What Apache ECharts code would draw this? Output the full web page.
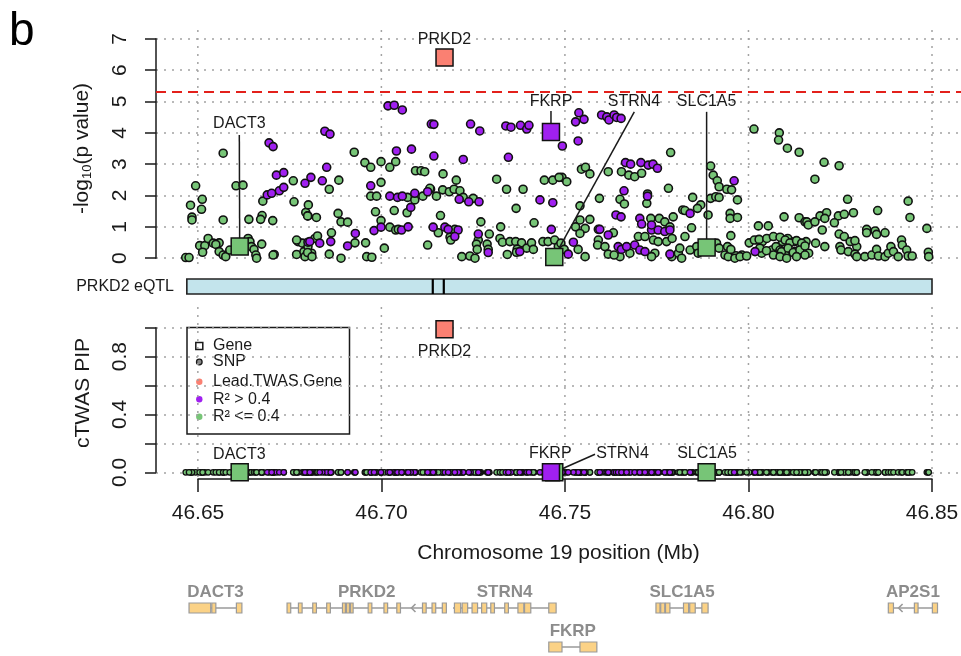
<!DOCTYPE html>
<html>
<head>
<meta charset="utf-8">
<script src="https://cdn.jsdelivr.net/npm/echarts@6/dist/echarts.min.js"></script>
<style>
html, body { margin: 0; padding: 0; background: #fff; }
#chart { width: 961px; height: 656px; }
</style>
</head>
<body>
<div id="chart"></div>
<script>
// x range of the plotting region (Mb), and the labelled positions
var XMIN = 46.6386, XMAX = 46.8579;
var xTicks = [46.65, 46.70, 46.75, 46.80, 46.85];
var pipLabelled = [0, 0.4, 0.8];
var sigLine = 5.3;   // -log10 p threshold

// SNPs with R^2 <= 0.4 to the lead gene: [position Mb, -log10 p]
var snpLow = [
  [46.6569,3.35],[46.6494,2.31],[46.6480,1.69],[46.6512,1.88],[46.6510,1.56],[46.6484,1.31],[46.6484,1.22],
  [46.6604,2.31],[46.6623,2.33],[46.6569,1.22],[46.6639,1.24],[46.6675,1.36],[46.6671,1.24],[46.6677,1.82],
  [46.6762,1.80],[46.6760,2.47],[46.6794,1.46],[46.6800,1.35],[46.6467,0.02],[46.6476,0.02],[46.6505,0.40],
  [46.6519,0.40],[46.6513,0.19],[46.6528,0.63],[46.6542,0.48],[46.6558,0.49],[46.6549,0.44],[46.6558,0.21],
  [46.6569,0.10],[46.6576,0.05],[46.6587,0.26],[46.6637,0.63],[46.6642,0.53],[46.6646,0.37],[46.6653,0.28],
  [46.6658,0.10],[46.6660,0.00],[46.6674,0.45],[46.6708,0.12],[46.6769,0.12],[46.6773,0.53],[46.6785,0.48],
  [46.6789,0.21],[46.6800,0.37],[46.6800,0.16],[46.6704,1.20],[46.6769,0.58],[46.6819,0.63],[46.6792,0.05],
  [46.6810,0.16],[46.6705,0.10],
  [46.6926,3.38],[46.6955,3.05],[46.6971,2.90],[46.6999,3.08],[46.7023,2.90],[46.7039,3.08],[46.7093,2.79],
  [46.7108,2.79],[46.7118,2.76],[46.6884,2.49],[46.6858,2.20],[46.6999,2.42],[46.6971,1.98],[46.6987,1.98],
  [46.7071,1.94],[46.7091,1.86],[46.7113,1.98],[46.7134,2.20],[46.6984,1.48],[46.7035,1.52],[46.7070,1.45],
  [46.6801,1.70],[46.6799,1.35],[46.6823,1.30],[46.6882,1.43],[46.6890,1.16],[46.6908,1.15],[46.6826,0.71],
  [46.6864,0.81],[46.6799,0.18],[46.6811,0.05],[46.6858,0.13],[46.6890,0.00],[46.6928,0.49],[46.6957,0.49],
  [46.6960,0.05],[46.6974,0.03],[46.6999,1.20],[46.7023,0.99],[46.7039,0.90],[46.7046,0.92],[46.7008,0.32],
  [46.7126,0.42],
  [46.7168,2.69],[46.7204,2.49],[46.7314,2.52],[46.7132,2.23],[46.7167,2.18],[46.7185,2.12],[46.7198,2.20],
  [46.7214,2.15],[46.7150,1.98],[46.7223,1.94],[46.7250,1.91],[46.7341,2.20],[46.7386,2.20],[46.7444,2.49],
  [46.7467,2.49],[46.7492,2.58],[46.7367,1.59],[46.7161,1.36],[46.7271,1.16],[46.7325,1.00],[46.7416,1.13],
  [46.7155,0.81],[46.7187,0.67],[46.7189,0.58],[46.7200,0.92],[46.7264,0.58],[46.7294,0.77],[46.7259,0.45],
  [46.7261,0.28],[46.7288,0.45],[46.7291,0.28],[46.7323,0.63],[46.7330,0.51],[46.7350,0.53],[46.7366,0.53],
  [46.7382,0.49],[46.7396,0.32],[46.7409,0.49],[46.7440,0.53],[46.7454,0.53],[46.7472,0.58],[46.7219,0.05],
  [46.7241,0.07],[46.7255,0.00],[46.7343,0.12],[46.7370,0.29],[46.7368,0.19],[46.7414,0.28],[46.7650,0.05],
  [46.7788,3.37],[46.7545,2.84],[46.7556,2.90],[46.7568,2.69],[46.7618,2.76],[46.7654,2.76],[46.7674,2.65],
  [46.7690,2.60],[46.7709,2.71],[46.7484,2.58],[46.7505,2.44],[46.7782,2.23],[46.7594,1.91],[46.7650,1.88],
  [46.7662,1.73],[46.7723,1.75],[46.7725,2.05],[46.7541,1.67],[46.7541,1.22],[46.7568,1.24],[46.7591,0.92],
  [46.7632,0.81],[46.7734,1.27],[46.7757,1.27],[46.7772,1.16],[46.7795,1.32],[46.7786,1.00],[46.7529,1.00],
  [46.7555,0.95],[46.7541,0.79],[46.7591,0.58],[46.7589,0.42],[46.7609,0.37],[46.7700,0.69],[46.7718,0.69],
  [46.7741,0.58],[46.7754,0.53],[46.7777,0.53],[46.7792,0.63],[46.7536,0.28],[46.7555,0.05],[46.7618,0.13],
  [46.7634,0.10],[46.7677,0.16],[46.7745,0.16],[46.7736,0.05],[46.7791,0.05],[46.7809,0.16],[46.7818,0.00],
  [46.7482,0.37],[46.7489,0.48],[46.7498,0.28],
  [46.8015,4.12],[46.8084,4.00],[46.8082,3.77],[46.8106,3.51],[46.8138,3.38],[46.7897,2.94],[46.7904,2.65],
  [46.7915,2.47],[46.7920,2.28],[46.7941,2.20],[46.7954,2.18],[46.7970,1.86],[46.7848,1.94],[46.7870,1.70],
  [46.7861,1.59],[46.7897,1.91],[46.7911,1.96],[46.7920,1.94],[46.7890,1.38],[46.7950,1.43],[46.7950,1.27],
  [46.7970,1.30],[46.7821,1.54],[46.7827,0.69],[46.7845,0.97],[46.7952,0.72],[46.8027,1.03],[46.8054,1.03],
  [46.8097,1.32],[46.8138,1.29],[46.8154,1.16],[46.7841,0.26],[46.7859,0.37],[46.7863,0.16],[46.7913,0.48],
  [46.7920,0.32],[46.7936,0.10],[46.7954,0.13],[46.7966,0.08],[46.7982,0.10],[46.8002,0.49],[46.8025,0.58],
  [46.8038,0.53],[46.8064,0.26],[46.8075,0.37],[46.8093,0.53],[46.8107,0.63],[46.8125,0.53],[46.8139,0.48],
  [46.8157,0.53],[46.8036,0.16],[46.8068,0.10],[46.8086,0.26],[46.8100,0.16],[46.8127,0.21],[46.8150,0.28],
  [46.8164,0.16],[46.8016,0.58],[46.8029,0.60],[46.8050,0.63],[46.8068,0.69],[46.8086,0.67],[46.8100,0.58],
  [46.8113,0.49],[46.8131,0.56],[46.8145,0.48],[46.8031,0.32],[46.8049,0.24],[46.8090,0.21],[46.8108,0.32],
  [46.8122,0.18],[46.8140,0.26],[46.8154,0.10],[46.8086,0.05],[46.8104,0.00],[46.8131,0.05],[46.7945,0.05],
  [46.7963,0.00],[46.7977,0.05],[46.7995,0.07],[46.7943,0.37],[46.7952,0.28],[46.7813,0.32],[46.7827,1.52],
  [46.8206,3.06],[46.8247,2.95],[46.8181,2.52],[46.8270,1.88],[46.8435,1.82],[46.8352,1.52],[46.8286,1.45],
  [46.8440,1.30],[46.8195,1.35],[46.8213,1.45],[46.8208,1.27],[46.8245,1.35],[46.8261,1.40],[46.8234,1.13],
  [46.8159,1.16],[46.8163,1.06],[46.8181,1.16],[46.8201,0.90],[46.8486,0.95],[46.8322,0.92],[46.8322,0.81],
  [46.8345,0.87],[46.8349,0.76],[46.8372,0.81],[46.8247,0.77],[46.8261,0.69],[46.8277,0.53],[46.8295,0.37],
  [46.8290,0.56],[46.8183,0.48],[46.8208,0.37],[46.8154,0.39],[46.8249,0.37],[46.8252,0.26],[46.8272,0.21],
  [46.8290,0.13],[46.8295,0.05],[46.8317,0.05],[46.8336,0.10],[46.8349,0.28],[46.8354,0.07],[46.8372,0.05],
  [46.8381,0.16],[46.8388,0.37],[46.8395,0.21],[46.8408,0.05],[46.8417,0.58],[46.8419,0.42],[46.8431,0.26],
  [46.8435,0.07],[46.8446,0.07],[46.8490,0.19],[46.8491,0.05]
];

// SNPs with R^2 > 0.4
var snpHigh = [
  [46.6694,3.68],[46.6705,3.56],[46.6714,2.65],[46.6734,2.73],[46.6722,2.15],[46.6734,2.26],[46.6689,2.02],
  [46.6701,2.07],[46.6800,0.51],[46.6792,2.39],
  [46.7018,4.86],[46.7035,4.88],[46.7057,4.73],[46.6846,4.05],[46.6860,3.96],[46.7136,4.28],[46.7143,4.27],
  [46.7041,3.42],[46.7082,3.48],[46.7143,3.26],[46.6851,2.90],[46.6808,2.58],[46.6839,2.47],[46.6971,2.31],
  [46.7023,1.98],[46.7044,1.94],[46.7057,1.98],[46.7091,2.07],[46.7126,2.12],[46.7080,1.62],[46.6805,0.53],
  [46.6832,0.48],[46.6862,0.53],[46.6908,0.39],[46.6929,0.79],[46.6980,0.88],[46.6999,0.99],[46.7055,0.90],
  [46.7073,1.00],[46.7141,0.99],
  [46.7243,4.28],[46.7268,4.06],[46.7339,4.22],[46.7353,4.18],[46.7379,4.24],[46.7396,4.12],[46.7402,4.24],
  [46.7223,3.15],[46.7346,3.22],[46.7212,1.88],[46.7238,1.80],[46.7266,1.80],[46.7432,1.86],[46.7467,1.77],
  [46.7173,0.99],[46.7182,0.92],[46.7209,0.90],[46.7200,0.69],[46.7264,0.77],[46.7291,0.18],[46.7377,0.21],
  [46.7463,0.92],
  [46.7538,4.64],[46.7529,4.35],[46.7552,4.43],[46.7600,4.57],[46.7614,4.51],[46.7620,4.41],[46.7634,4.57],
  [46.7641,4.49],[46.7653,4.46],[46.7536,3.74],[46.7493,3.58],[46.7665,3.05],[46.7679,3.00],[46.7707,3.05],
  [46.7727,2.97],[46.7740,3.00],[46.7752,2.87],[46.7661,2.15],[46.7725,1.98],[46.7639,1.38],[46.7653,1.32],
  [46.7704,1.27],[46.7709,1.09],[46.7736,0.90],[46.7754,0.90],[46.7772,0.85],[46.7786,0.90],[46.7736,1.06],
  [46.7595,0.92],[46.7618,0.74],[46.7523,0.51],[46.7509,0.13],[46.7645,0.37],[46.7654,0.28],[46.7668,0.37],
  [46.7690,0.42],[46.7704,0.26],[46.7718,0.21],[46.7786,0.13],
  [46.7961,2.47],[46.7841,1.43],[46.8018,0.21]
];
var snpPIP = 0;   // every SNP sits at PIP 0 in the lower panel

// genes tested in cTWAS (drawn in this order so FKRP lies over STRN4)
var geneNames = ['DACT3', 'PRKD2', 'STRN4', 'FKRP', 'SLC1A5'];
var genePos   = [46.6614, 46.7172, 46.7471, 46.7462, 46.7886];
var geneLogP  = [0.37, 6.40, 0.04, 4.03, 0.34];
var genePIP   = [0, 0.99, 0, 0, 0];
var geneGroup = ['low', 'lead', 'low', 'high', 'low'];

// PRKD2 expression model: window and the two weighted SNPs
var eqtlRange = [46.6470, 46.8500];
var eqtlWeights = [46.7140, 46.7170];

// gene models along the bottom
var trackNames = ['DACT3', 'PRKD2', 'STRN4', 'SLC1A5', 'AP2S1', 'FKRP'];
var trackRow   = [0, 0, 0, 0, 0, 1];
var trackStart = [46.6476, 46.6743, 46.7195, 46.7748, 46.8380, 46.7456];
var trackEnd   = [46.6620, 46.7177, 46.7476, 46.7890, 46.8516, 46.7587];
var trackArrow = [null, 46.7082, null, null, 46.8409, null];
var trackExons = [
  [[46.6476,46.6535],[46.6538,46.6549],[46.6605,46.6620]],
  [[46.6743,46.6753],[46.6774,46.6784],[46.6813,46.6823],[46.6851,46.6861],[46.6894,46.6902],[46.6905,46.6913],
   [46.6916,46.6923],[46.6964,46.6974],[46.7007,46.7017],[46.7042,46.7052],[46.7112,46.7122],[46.7138,46.7148],
   [46.7166,46.7177]],
  [[46.7199,46.7216],[46.7220,46.7235],[46.7247,46.7262],[46.7273,46.7287],[46.7298,46.7308],[46.7336,46.7346],
   [46.7372,46.7388],[46.7390,46.7407],[46.7456,46.7476]],
  [[46.7748,46.7759],[46.7761,46.7772],[46.7774,46.7786],[46.7823,46.7837],[46.7840,46.7855],[46.7873,46.7890]],
  [[46.8381,46.8395],[46.8452,46.8462],[46.8501,46.8515]],
  [[46.7456,46.7492],[46.7541,46.7587]]
];

// where gene names sit, and where their leader lines start (data units of each panel)
var topLabelAt = { DACT3: [46.6613, 4.31], PRKD2: [46.7172, 6.98], STRN4: [46.7688, 5.01], FKRP: [46.7462, 5.01], SLC1A5: [46.7886, 5.01] };
var topLeaderFrom = { DACT3: [46.6613, 3.93], STRN4: [46.7689, 4.67], FKRP: [46.7462, 4.70], SLC1A5: [46.7886, 4.67] };
var lowLabelAt = { DACT3: [46.6613, 0.125], PRKD2: [46.7172, 0.835], STRN4: [46.7657, 0.13], FKRP: [46.7460, 0.13], SLC1A5: [46.7887, 0.13] };
var lowLeaderFrom = { STRN4: [46.7582, 0.125] };

var INK = '#1a1a1a', DOTS = '#a3a3a3';
var GREEN = '#77c577', PURPLE = '#a020f0', SALMON = '#fa8072';
var EXON = '#fbd286', MODEL_LINE = '#9a9a9a';
var FONT = '"Liberation Sans", Arial, sans-serif';
var groupColor = { low: GREEN, high: PURPLE, lead: SALMON };

var chart = echarts.init(document.getElementById('chart'));

function plainGrid(g) {
  g.containLabel = false;
  g.outerBoundsMode = 'none';
  return g;
}

function hiddenX(grid) {
  return { type: 'value', gridIndex: grid, min: XMIN, max: XMAX, show: false };
}

function hiddenY(grid, inverse) {
  return { type: 'value', gridIndex: grid, min: 0, max: 1, show: false, inverse: !!inverse };
}

// y axis that only carries a title (spans the whole plotting region)
function titleY(grid, name, rich) {
  return {
    type: 'value', gridIndex: grid, min: 0, max: 1, position: 'left',
    axisLine: { show: false }, axisTick: { show: false }, axisLabel: { show: false }, splitLine: { show: false },
    name: name, nameLocation: 'middle', nameRotate: 90, nameGap: 62,
    nameTextStyle: { fontSize: 21, color: INK, fontFamily: FONT, rich: rich }
  };
}

function vGrid(params, api) {
  var x = api.coord([api.value(0), 0])[0];
  var cs = params.coordSys;
  return {
    type: 'line', silent: true,
    shape: { x1: x, y1: cs.y, x2: x, y2: cs.y + cs.height },
    style: { stroke: DOTS, lineWidth: 1.5, lineDash: [2, 6] }
  };
}

function leaders(fromMap) {
  return function (params, api) {
    var from = fromMap[geneNames[params.dataIndex]];
    if (!from) return null;
    var a = api.coord(from);
    var b = api.coord([api.value(0), api.value(1)]);
    return { type: 'line', shape: { x1: a[0], y1: a[1], x2: b[0], y2: b[1] }, style: { stroke: INK, lineWidth: 1.5 } };
  };
}

function labels(atMap) {
  return function (params, api) {
    var name = geneNames[params.dataIndex];
    var p = api.coord(atMap[name]);
    return {
      type: 'text',
      style: { text: name, x: p[0], y: p[1], align: 'center', verticalAlign: 'middle', fill: INK, font: '16px ' + FONT }
    };
  };
}

function geneModel(params, api) {
  var i = params.dataIndex, row = trackRow[i];
  var s = api.coord([trackStart[i], row]), e = api.coord([trackEnd[i], row]);
  var y = s[1];
  var kids = [{ type: 'line', shape: { x1: s[0], y1: y, x2: e[0], y2: y }, style: { stroke: MODEL_LINE, lineWidth: 1.6 } }];
  if (trackArrow[i] != null) {
    var ax = api.coord([trackArrow[i], row])[0];
    kids.push({ type: 'polyline', shape: { points: [[ax + 4, y - 4], [ax, y], [ax + 4, y + 4]] },
                style: { stroke: MODEL_LINE, lineWidth: 1.6, fill: null } });
  }
  trackExons[i].forEach(function (ex) {
    var a = api.coord([ex[0], row])[0], b = api.coord([ex[1], row])[0];
    kids.push({ type: 'rect', shape: { x: a, y: y - 5, width: Math.max(b - a, 2), height: 10 },
                style: { fill: EXON, stroke: MODEL_LINE, lineWidth: 1.2 } });
  });
  var mid = api.coord([(trackStart[i] + trackEnd[i]) / 2, row])[0];
  kids.push({ type: 'text', style: { text: trackNames[i], x: mid, y: y - 16, align: 'center', verticalAlign: 'middle',
                                     fill: '#8c8c8c', font: 'bold 17px ' + FONT } });
  return { type: 'group', children: kids };
}

var geneIdx = geneNames.map(function (n, i) { return i; });
var tickData = xTicks.map(function (v) { return [v, 0]; });

var option = {
  animation: false,
  backgroundColor: '#fff',
  grid: [
    plainGrid({ left: 156, right: 0, top: 38.8, height: 219.4 }),  // 0 upper points
    plainGrid({ left: 156, right: 0, top: 30, height: 237 }),      // 1 upper frame
    plainGrid({ left: 156, right: 0, top: 279, height: 15 }),      // 2 eQTL strip
    plainGrid({ left: 156, right: 0, top: 327.8, height: 144.5 }), // 3 lower points
    plainGrid({ left: 156, right: 0, top: 307, height: 172 }),     // 4 lower frame
    plainGrid({ left: 198, width: 734, top: 470, height: 9 }),     // 5 position axis
    plainGrid({ left: 156, right: 0, top: 608, height: 39 })       // 6 gene models
  ],
  xAxis: [
    hiddenX(0), hiddenX(1), hiddenX(2), hiddenX(3),
    {
      type: 'value', gridIndex: 4, min: XMIN, max: XMAX,
      axisLine: { show: false }, axisTick: { show: false }, axisLabel: { show: false }, splitLine: { show: false },
      name: 'Chromosome 19 position (Mb)', nameLocation: 'middle', nameGap: 64,
      nameTextStyle: { fontSize: 21, color: INK, fontFamily: FONT }
    },
    {
      type: 'value', gridIndex: 5, min: 46.65, max: 46.85, interval: 0.05,
      axisLine: { show: true, onZero: false, lineStyle: { color: INK, width: 1.5 } },
      axisTick: { show: true, length: 13, lineStyle: { color: INK, width: 1.5 } },
      axisLabel: { fontSize: 21, color: INK, fontFamily: FONT, margin: 24,
                   formatter: function (v) { return v.toFixed(2); } },
      splitLine: { show: false }
    },
    hiddenX(6)
  ],
  yAxis: [
    {
      type: 'value', gridIndex: 0, min: 0, max: 7, interval: 1,
      axisLine: { show: true, onZero: false, lineStyle: { color: INK, width: 1.5 } },
      axisTick: { show: true, length: 11, lineStyle: { color: INK, width: 1.5 } },
      axisLabel: { rotate: 90, margin: 25, fontSize: 21, color: INK, fontFamily: FONT },
      splitLine: { show: true, lineStyle: { color: DOTS, width: 1.5, type: [2, 6] } }
    },
    titleY(1, '-log{sub|10}(p value)', { sub: { fontSize: 13, fontFamily: FONT, color: INK, verticalAlign: 'top', padding: [11, 0, 0, 0] } }),
    hiddenY(2),
    {
      type: 'value', gridIndex: 3, min: 0, max: 1, interval: 0.2,
      axisLine: { show: true, onZero: false, lineStyle: { color: INK, width: 1.5 } },
      axisTick: { show: true, length: 11, lineStyle: { color: INK, width: 1.5 } },
      axisLabel: { rotate: 90, margin: 25, fontSize: 21, color: INK, fontFamily: FONT,
                   formatter: function (v) {
                     var r = Math.round(v * 10) / 10;
                     return pipLabelled.indexOf(r) >= 0 ? r.toFixed(1) : '';
                   } },
      splitLine: { show: true, lineStyle: { color: DOTS, width: 1.5, type: [2, 6] } }
    },
    titleY(4, 'cTWAS PIP'),
    hiddenY(5),
    hiddenY(6, true)
  ],
  series: [
    // vertical dotted grid lines
    { type: 'custom', xAxisIndex: 1, yAxisIndex: 1, z: 1, silent: true, data: tickData, renderItem: vGrid },
    { type: 'custom', xAxisIndex: 4, yAxisIndex: 4, z: 1, silent: true, data: tickData, renderItem: vGrid },

    // upper panel: SNPs
    {
      type: 'scatter', xAxisIndex: 0, yAxisIndex: 0, z: 3, clip: false, symbolSize: 8,
      itemStyle: { color: GREEN, borderColor: '#111', borderWidth: 1.6, opacity: 1 },
      data: snpLow
    },
    {
      type: 'scatter', xAxisIndex: 0, yAxisIndex: 0, z: 3, clip: false, symbolSize: 8,
      itemStyle: { color: PURPLE, borderColor: '#111', borderWidth: 1.6, opacity: 1 },
      data: snpHigh,
      markLine: {
        silent: true, symbol: ['none', 'none'], label: { show: false },
        lineStyle: { color: '#e3201b', width: 2, type: [10, 6] },
        data: [{ yAxis: sigLine }]
      }
    },
    // upper panel: genes
    {
      type: 'custom', xAxisIndex: 0, yAxisIndex: 0, z: 4, silent: true,
      data: geneIdx.map(function (i) { return [genePos[i], geneLogP[i]]; }),
      renderItem: leaders(topLeaderFrom)
    },
    {
      type: 'scatter', xAxisIndex: 0, yAxisIndex: 0, z: 5, clip: false, symbol: 'rect', symbolSize: 17,
      itemStyle: { borderColor: '#111', borderWidth: 1.5, opacity: 1 },
      data: geneIdx.map(function (i) {
        return { value: [genePos[i], geneLogP[i]], itemStyle: { color: groupColor[geneGroup[i]] } };
      })
    },
    {
      type: 'custom', xAxisIndex: 0, yAxisIndex: 0, z: 6, silent: true,
      data: geneIdx.map(function (i) { return [genePos[i], geneLogP[i]]; }),
      renderItem: labels(topLabelAt)
    },

    // eQTL strip
    {
      type: 'custom', xAxisIndex: 2, yAxisIndex: 2, z: 3, silent: true,
      data: [[eqtlRange[0], eqtlRange[1]]],
      renderItem: function (params, api) {
        var a = api.coord([api.value(0), 0]), b = api.coord([api.value(1), 1]);
        return { type: 'rect', shape: { x: a[0], y: b[1], width: b[0] - a[0], height: a[1] - b[1] },
                 style: { fill: '#c3e4ec', stroke: '#222', lineWidth: 1.6 } };
      }
    },
    {
      type: 'custom', xAxisIndex: 2, yAxisIndex: 2, z: 4, silent: true,
      data: eqtlWeights.map(function (v) { return [v]; }),
      renderItem: function (params, api) {
        var a = api.coord([api.value(0), 0]), b = api.coord([api.value(0), 1]);
        return { type: 'line', shape: { x1: a[0], y1: a[1], x2: b[0], y2: b[1] }, style: { stroke: '#000', lineWidth: 2.2 } };
      }
    },

    // lower panel: SNPs
    {
      type: 'scatter', xAxisIndex: 3, yAxisIndex: 3, z: 3, clip: false, symbolSize: 5.5,
      itemStyle: { color: GREEN, borderColor: '#111', borderWidth: 1.3, opacity: 1 },
      data: snpLow.map(function (p) { return [p[0], snpPIP]; })
    },
    {
      type: 'scatter', xAxisIndex: 3, yAxisIndex: 3, z: 3, clip: false, symbolSize: 5.5,
      itemStyle: { color: PURPLE, borderColor: '#111', borderWidth: 1.3, opacity: 1 },
      data: snpHigh.map(function (p) { return [p[0], snpPIP]; })
    },
    // lower panel: genes
    {
      type: 'custom', xAxisIndex: 3, yAxisIndex: 3, z: 4, silent: true,
      data: geneIdx.map(function (i) { return [genePos[i], genePIP[i]]; }),
      renderItem: leaders(lowLeaderFrom)
    },
    {
      type: 'scatter', xAxisIndex: 3, yAxisIndex: 3, z: 5, clip: false, symbol: 'rect', symbolSize: 17,
      itemStyle: { borderColor: '#111', borderWidth: 1.5, opacity: 1 },
      data: geneIdx.map(function (i) {
        return { value: [genePos[i], genePIP[i]], itemStyle: { color: groupColor[geneGroup[i]] } };
      })
    },
    {
      type: 'custom', xAxisIndex: 3, yAxisIndex: 3, z: 6, silent: true,
      data: geneIdx.map(function (i) { return [genePos[i], genePIP[i]]; }),
      renderItem: labels(lowLabelAt)
    },

    // gene models
    {
      type: 'custom', xAxisIndex: 6, yAxisIndex: 6, z: 3, silent: true,
      data: trackNames.map(function (n, i) { return [trackStart[i], trackRow[i]]; }),
      renderItem: geneModel
    }
  ],
  graphic: [
    { type: 'text', x: 9, y: 9, style: { text: 'b', font: '46px ' + FONT, fill: '#000' } },
    { type: 'text', x: 174, y: 287, style: { text: 'PRKD2 eQTL', align: 'right', verticalAlign: 'middle', font: '16px ' + FONT, fill: INK } },
    {
      type: 'group', x: 187, y: 327.5,
      children: [
        { type: 'rect', shape: { x: 0, y: 0, width: 162.5, height: 106.5 }, style: { fill: 'none', stroke: INK, lineWidth: 1.5 } },
        { type: 'rect', shape: { x: 8.8, y: 15, width: 7, height: 7 }, style: { fill: '#fff', stroke: INK, lineWidth: 1.5 } },
        { type: 'circle', shape: { cx: 12.3, cy: 34.5, r: 2.8 }, style: { fill: '#888', stroke: INK, lineWidth: 1.3 } },
        { type: 'circle', shape: { cx: 12.3, cy: 54.2, r: 3.2 }, style: { fill: SALMON } },
        { type: 'circle', shape: { cx: 12.3, cy: 71.8, r: 3.2 }, style: { fill: PURPLE } },
        { type: 'circle', shape: { cx: 12.3, cy: 89.2, r: 3.2 }, style: { fill: GREEN } },
        { type: 'text', x: 26, y: 18.5, style: { text: 'Gene', verticalAlign: 'middle', font: '16px ' + FONT, fill: INK } },
        { type: 'text', x: 26, y: 34.5, style: { text: 'SNP', verticalAlign: 'middle', font: '16px ' + FONT, fill: INK } },
        { type: 'text', x: 26, y: 54.2, style: { text: 'Lead.TWAS.Gene', verticalAlign: 'middle', font: '16px ' + FONT, fill: INK } },
        { type: 'text', x: 26, y: 71.8, style: { text: 'R\u00b2 > 0.4', verticalAlign: 'middle', font: '16px ' + FONT, fill: INK } },
        { type: 'text', x: 26, y: 89.2, style: { text: 'R\u00b2 <= 0.4', verticalAlign: 'middle', font: '16px ' + FONT, fill: INK } }
      ]
    }
  ]
};

chart.setOption(option);
</script>
</body>
</html>
